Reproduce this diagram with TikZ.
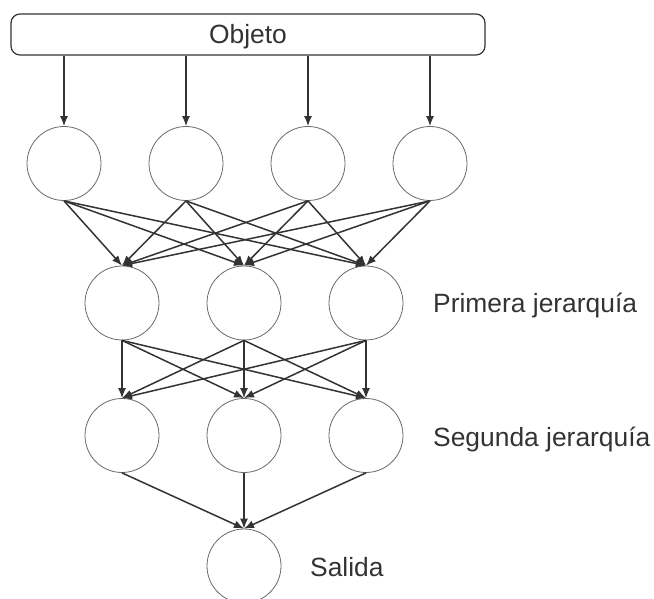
\documentclass[tikz,border=0pt]{standalone}
\usepackage{fontspec}
\setmainfont{Liberation Sans}
\usetikzlibrary{arrows.meta}
\definecolor{ink}{HTML}{333333}
\definecolor{rim}{HTML}{6A6A6A}
\tikzset{
    input-box/.style = {draw=ink, line width=1.2pt, rectangle, rounded corners=9pt, minimum width=474pt, minimum height=41pt},
    neuron/.style = {draw=rim, circle, line width=0.8pt, minimum size=74pt, inner sep=0pt},
    link/.style = {draw=ink, line width=1.5pt, -{Latex[length=10pt,width=8pt]}},
    layer-label/.style = {anchor=base west, text=ink, inner sep=0pt},
}

\begin{document}
\begin{tikzpicture}[x=1pt, y=-1pt, font=\fontsize{26.4}{30}\selectfont]
\useasboundingbox (0,0) rectangle (654,599);
\node [input-box, text=ink] (in) at (248,34.5) {};
\node [anchor=base, text=ink, inner sep=0pt] (in-text) at (248,43.5) {Objeto};
% first layer
\node [neuron] (a1) at (64,163.5) {};
\node [neuron] (a2) at (186,163.5) {};
\node [neuron] (a3) at (308,163.5) {};
\node [neuron] (a4) at (430,163.5) {};
% hierarchies
\node [neuron] (b1) at (122,303) {};
\node [neuron] (b2) at (244,303) {};
\node [neuron] (b3) at (366,303) {};
\node [neuron] (c1) at (122,435.5) {};
\node [neuron] (c2) at (244,435.5) {};
\node [neuron] (c3) at (366,435.5) {};
\node [neuron] (out) at (244,566) {};
\node [layer-label] (lab-b) at (433,312) {Primera jerarquía};
\node [layer-label] (lab-c) at (433,446) {Segunda jerarquía};
\node [layer-label] (lab-out) at (310,576) {Salida};
% connections
\foreach \i in {1,...,4}
    \draw [link] (in.south -| a\i) -- (a\i.north);
\foreach \i in {1,...,4}
    \foreach \j in {1,2,3}
        \draw [link] (a\i.south) -- (b\j.north);
\foreach \i in {1,2,3}
    \foreach \j in {1,2,3}
        \draw [link] (b\i.south) -- (c\j.north);
\foreach \i in {1,2,3}
    \draw [link] (c\i.south) -- (out.north);
\end{tikzpicture}
\end{document}
